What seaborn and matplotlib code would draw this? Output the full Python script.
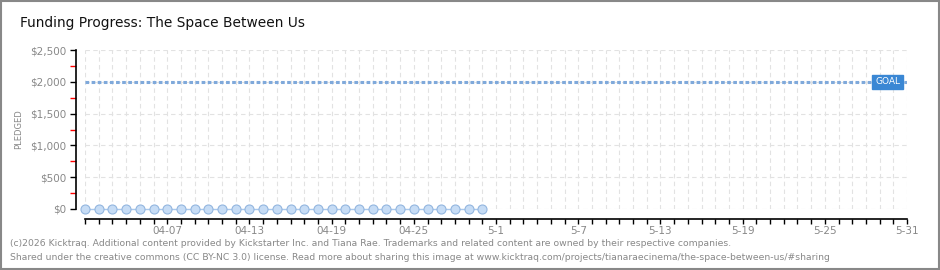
import matplotlib
matplotlib.use("Agg")
import matplotlib.pyplot as plt
from matplotlib.ticker import MultipleLocator
from matplotlib.patches import Rectangle
import seaborn as sns
import pandas as pd

# data
days = pd.date_range("2026-04-01", "2026-04-30", freq="D")
pledged = [0] * 30
goal = 2000
x_start, x_end = pd.Timestamp("2026-04-01"), pd.Timestamp("2026-05-31")
tick_days = pd.date_range("2026-04-07", "2026-05-31", freq="6D")
tick_labels = ["04-07", "04-13", "04-19", "04-25", "5-1", "5-7", "5-13", "5-19", "5-25", "5-31"]
y_ticks = [0, 500, 1000, 1500, 2000, 2500]
y_labels = ["$0", "$500", "$1,000", "$1,500", "$2,000", "$2,500"]

df = pd.DataFrame({"day": days, "pledged": pledged})

sns.set_theme(style="white")
plt.rcParams["font.family"] = ["DejaVu Sans"]

fig = plt.figure(figsize=(9.4, 2.7), dpi=100)
ax = fig.add_axes([85 / 940, 1 - 209 / 270, 822 / 940, 159 / 270])

all_days = pd.date_range(x_start, x_end, freq="D")

# grid
for d in all_days:
    ax.axvline(d, color="#e2e2e2", lw=0.8, ls=(0, (4, 3)), zorder=0)
for y in y_ticks:
    ax.axhline(y, color="#e2e2e2", lw=0.8, ls=(0, (4, 3)), zorder=0)

# goal line
ax.axhline(goal, color="#7fa9db", lw=2.2, ls=(0, (1.2, 0.8)), zorder=2)
ax.text(pd.Timestamp("2026-05-28 16:00"), goal, "GOAL", color="white", fontsize=6.5,
        va="center", ha="left", zorder=4,
        bbox=dict(boxstyle="square,pad=0.3", fc="#3a87d4", ec="#3a87d4"))

sns.lineplot(data=df, x="day", y="pledged", ax=ax, color="#a9c8ec", lw=1,
             marker="o", markersize=6.5, markerfacecolor="#c6dcf5",
             markeredgecolor="#93b6df", markeredgewidth=0.8, clip_on=False, zorder=3)

ax.set_xlim(x_start, x_end)
ax.set_ylim(0, 2500)
ax.set_xticks(all_days, minor=True)
ax.set_xticks(tick_days)
ax.set_xticklabels(tick_labels)
ax.set_yticks(y_ticks)
ax.set_yticklabels(y_labels)
ax.yaxis.set_minor_locator(MultipleLocator(250))

for side in ["top", "right"]:
    ax.spines[side].set_visible(False)
ax.spines["left"].set_position(("outward", 6.5))
ax.spines["bottom"].set_position(("outward", 7))
for side in ["left", "bottom"]:
    ax.spines[side].set_color("black")
    ax.spines[side].set_linewidth(1.2)

ax.tick_params(axis="y", which="both", left=True)
ax.tick_params(axis="x", which="both", bottom=True)
ax.tick_params(axis="y", which="major", length=4, width=1, color="black",
               labelsize=7.5, labelcolor="#888888", pad=3)
ax.tick_params(axis="y", which="minor", length=4, width=1, color="red")
ax.tick_params(axis="x", which="both", length=3.5, width=1, direction="out", color="black",
               labelsize=7.5, labelcolor="#888888", pad=2)
ax.set_xlabel("")
ax.set_ylabel("PLEDGED", fontsize=6, color="#888888", labelpad=5)

fig.text(20 / 940, 1 - 23 / 270, "Funding Progress: The Space Between Us",
         fontsize=9.9, color="#111111", va="center")
fig.text(10 / 940, 1 - 243 / 270,
         "(c)2026 Kicktraq. Additional content provided by Kickstarter Inc. and Tiana Rae. "
         "Trademarks and related content are owned by their respective companies.",
         fontsize=6.65, color="#888888", va="center")
fig.text(10 / 940, 1 - 257 / 270,
         "Shared under the creative commons (CC BY-NC 3.0) license. Read more about sharing "
         "this image at www.kicktraq.com/projects/tianaraecinema/the-space-between-us/#sharing",
         fontsize=6.65, color="#888888", va="center")

fig.patches.append(Rectangle((0.001, 0.002), 0.998, 0.996, transform=fig.transFigure,
                             fill=False, ec="#888888", lw=1.5))

fig.savefig("out.png", dpi=100)
